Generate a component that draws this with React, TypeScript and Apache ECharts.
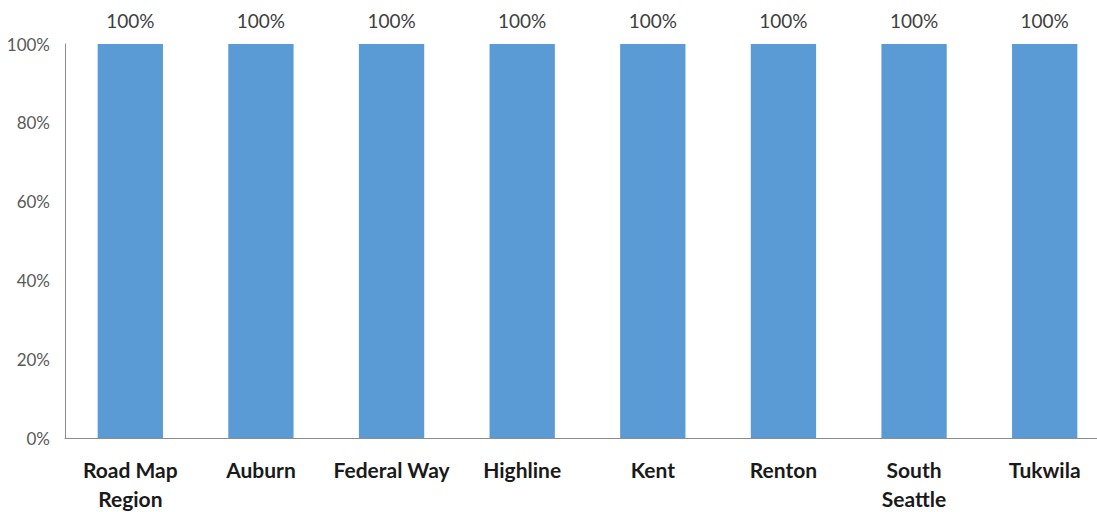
import React, { useEffect, useRef } from "react";
import * as echarts from "echarts";

const categories = ["Road Map\nRegion", "Auburn", "Federal Way", "Highline", "Kent", "Renton", "South\nSeattle", "Tukwila"];
const values = [100, 100, 100, 100, 100, 100, 100, 100];
const yTicks = [0, 20, 40, 60, 80, 100];

export default function App() {
  const ref = useRef<HTMLDivElement>(null);
  useEffect(() => {
    document.body.style.margin = "0";
    const chart = echarts.init(ref.current!, null, { renderer: "svg" });
    chart.setOption({
      animation: false,
      textStyle: { fontFamily: "Lato, 'Open Sans', sans-serif" },
      grid: { left: 65, right: -13, top: 44, bottom: 74, containLabel: false, outerBoundsMode: "none" },
      xAxis: {
        type: "category",
        data: categories,
        axisLine: { lineStyle: { color: "#8c8c8c", width: 1 } },
        axisTick: { show: false },
        axisLabel: {
          interval: 0,
          color: "#1a1a1a",
          fontSize: 21,
          fontWeight: "bold",
          lineHeight: 29,
          margin: 17,
        },
      },
      yAxis: {
        type: "value",
        min: 0,
        max: yTicks[yTicks.length - 1],
        interval: 20,
        splitLine: { show: false },
        axisLine: { show: true, lineStyle: { color: "#8c8c8c", width: 1 } },
        axisTick: { show: false },
        axisLabel: {
          color: "#595959",
          fontSize: 17,
          margin: 15,
          formatter: (v: number) => v + "%",
        },
      },
      series: [
        {
          type: "bar",
          data: values,
          barWidth: "50%",
          itemStyle: { color: "#5B9BD5" },
          label: {
            show: true,
            position: "top",
            distance: 14,
            color: "#404040",
            fontSize: 19,
            formatter: (p: any) => p.value + "%",
          },
        },
      ],
    });
    return () => chart.dispose();
  }, []);
  return <div ref={ref} style={{ width: 1097, height: 512 }} />;
}
